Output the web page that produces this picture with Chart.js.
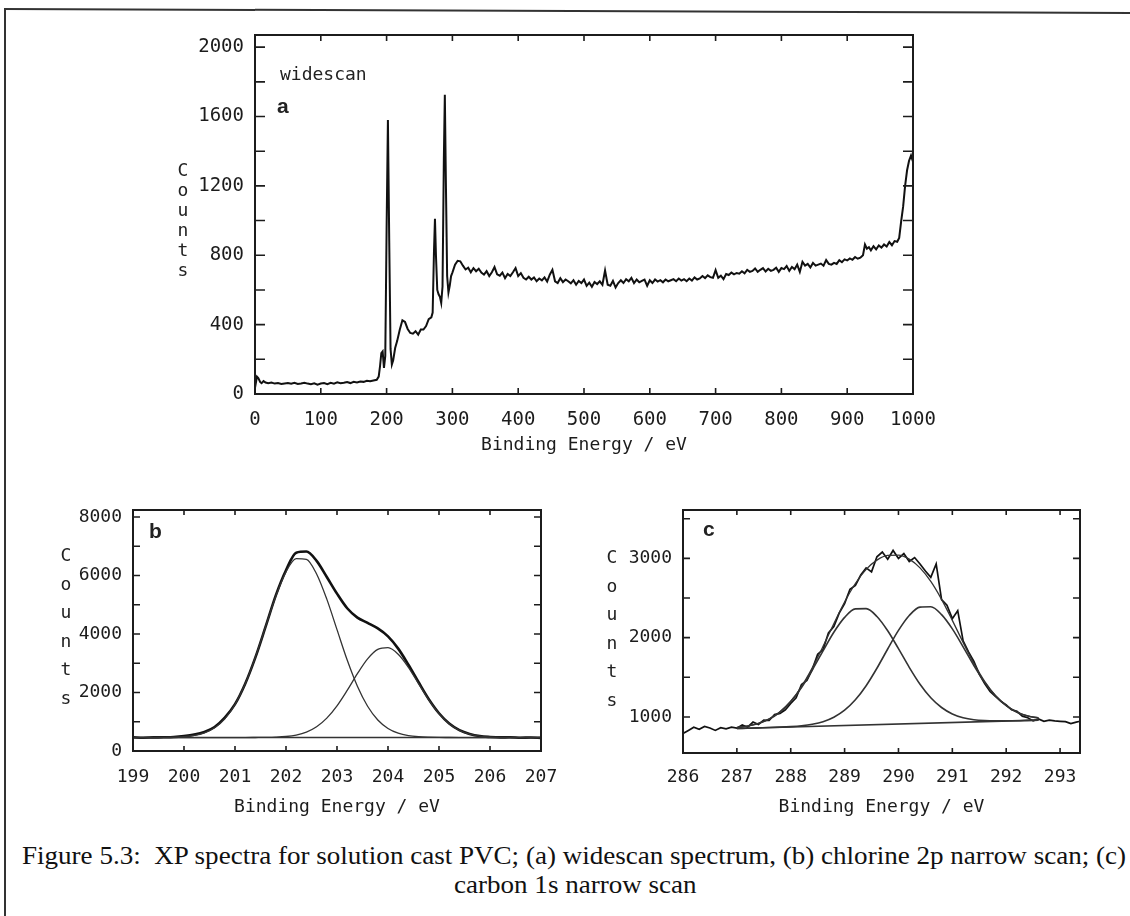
<!DOCTYPE html>
<html>
<head>
<meta charset="utf-8">
<script src="https://cdn.jsdelivr.net/npm/chart.js@4.4.0/dist/chart.umd.min.js"></script>
<style>
  html, body { margin: 0; padding: 0; background: #fff; }
  body { width: 1130px; height: 916px; position: relative; overflow: hidden; font-family: "DejaVu Sans Mono", monospace; color: #222; }
  .panel { position: absolute; }
  .frame-top { position: absolute; left: 4px; top: 8px; width: 1140px; height: 0; border-top: 2.5px solid #333; transform-origin: 0 0; transform: rotate(0.2deg); }
  .frame-left { position: absolute; left: 4px; top: 8px; width: 0; height: 920px; border-left: 2.5px solid #333; }
  .counts { position: absolute; font-size: 18px; text-align: center; width: 20px; }
  .note { position: absolute; font-size: 18px; line-height: 18px; }
  .tag { position: absolute; font-family: "Liberation Sans", Arial, sans-serif; font-weight: bold; font-size: 21px; line-height: 21px; }
  .caption { position: absolute; font-family: "Liberation Serif", "Times New Roman", serif; font-size: 25px; line-height: 27px; white-space: nowrap; transform-origin: 0 0; color: #111; }
</style>
</head>
<body>
<div class="frame-top"></div>
<div class="frame-left"></div>

<div class="panel" id="boxA"><canvas id="chartA"></canvas></div>
<div class="panel" id="boxB"><canvas id="chartB"></canvas></div>
<div class="panel" id="boxC"><canvas id="chartC"></canvas></div>

<div class="counts" style="left:173px;top:160px;line-height:20px">C<br>o<br>u<br>n<br>t<br>s</div>
<div class="counts" style="left:56px;top:541px;line-height:28.5px">C<br>o<br>u<br>n<br>t<br>s</div>
<div class="counts" style="left:602px;top:543px;line-height:28.5px">C<br>o<br>u<br>n<br>t<br>s</div>

<div class="note" style="left:280px;top:65px">widescan</div>
<div class="tag" style="left:277px;top:95px">a</div>
<div class="tag" style="left:149px;top:520px">b</div>
<div class="tag" style="left:703px;top:518px">c</div>

<div class="caption" id="cap1" style="left:22px;top:842px">Figure 5.3:&nbsp; XP spectra for solution cast PVC; (a) widescan spectrum, (b) chlorine 2p narrow scan; (c)</div>
<div class="caption" id="cap2" style="top:871px">carbon 1s narrow scan</div>

<script>
// (a) widescan
const wideEnergy = [
  0, 3, 5, 8, 10, 13, 16, 20, 25, 30, 35, 40, 45, 50, 55, 60, 65, 70, 75, 80, 85, 90, 95,
  100, 105, 110, 115, 120, 125, 130, 135, 140, 145, 150, 155, 160, 165, 170, 175, 180, 185,
  188, 190, 192, 194, 196, 198, 200, 202, 204, 206, 208, 210, 213, 216, 220, 224, 228, 232,
  236, 240, 244, 248, 252, 256, 260, 264, 268, 270, 272, 273.5, 275, 277, 279, 281, 283, 285,
  287, 288.5, 290, 292, 294, 296, 298,
  300, 304, 308, 312, 316, 320, 324, 328, 332, 336, 340, 344, 348, 352, 356, 360, 364, 368,
  372, 376, 380, 384, 388, 392, 396, 400, 404, 408, 412, 416, 420, 424, 428, 432, 436, 440,
  444, 448, 452, 456, 460, 464, 468, 472, 476, 480, 484, 488, 492, 496, 500, 504, 508, 512,
  516, 520, 524, 528, 532, 536, 540, 544, 548, 552, 556, 560, 564, 568, 572, 576, 580, 584,
  588, 592, 596, 600, 604, 608, 612, 616, 620, 624, 628, 632, 636, 640, 644, 648, 652, 656,
  660, 664, 668, 672, 676, 680, 684, 688, 692, 696, 700, 704, 708, 712, 716, 720, 724, 728,
  732, 736, 740, 744, 748, 752, 756, 760, 764, 768, 772, 776, 780, 784, 788, 792, 796, 800,
  804, 808, 812, 816, 820, 824, 828, 832, 836, 840, 844, 848, 852, 856, 860, 864, 868, 872,
  876, 880, 884, 888, 892, 896, 900, 904, 908, 912, 916, 920, 924,
  927, 930, 933, 936, 940, 944, 948, 952, 956, 960, 964, 968, 972, 976, 979, 982, 985, 988,
  991, 994, 997, 1000
];
const wideCounts = [
  35, 100, 92, 68, 62, 74, 66, 62, 66, 60, 63, 58, 61, 63, 59, 64, 58, 61, 65, 60, 57, 62, 54,
  60, 63, 57, 65, 60, 67, 62, 65, 69, 63, 70, 67, 72, 70, 76, 73, 78, 82,
  100, 160, 235, 245, 150, 220, 950, 1580, 880, 260, 170, 195, 265, 305, 370, 425, 415, 375,
  352, 348, 362, 342, 372, 372, 392, 432, 442, 470, 820, 1010, 800, 600, 575, 560, 525, 620,
  1350, 1725, 1250, 680, 585, 625, 680,
  700, 745, 768, 765, 740, 718, 728, 702, 726, 708, 722, 700, 688, 708, 680, 702, 732, 690,
  682, 700, 668, 692, 680, 702, 726, 680, 697, 670, 660, 676, 660, 672, 650, 666, 655, 672,
  648, 688, 716, 650, 640, 668, 645, 660, 650, 638, 656, 630, 652, 640, 660, 624, 642, 618,
  646, 634, 650, 630, 712, 630, 624, 652, 614, 640, 656, 640, 662, 650, 670, 640, 660, 644,
  652, 660, 624, 656, 640, 660, 648, 656, 644, 660, 650, 656, 662, 650, 666, 654, 662, 650,
  666, 654, 672, 660, 666, 680, 668, 684, 674, 670, 714, 670, 682, 662, 692, 686, 700, 690,
  698, 694, 708, 696, 716, 704, 710, 724, 704, 716, 726, 706, 722, 710, 716, 728, 704, 726,
  720, 738, 710, 732, 720, 746, 704, 762, 740, 750, 730, 756, 740, 746, 752, 740, 772, 750,
  746, 756, 750, 772, 760, 776, 770, 782, 774, 790, 780, 786, 800,
  862, 838, 846, 828, 852, 834, 856, 844, 862, 850, 876, 858, 882, 878, 900, 995, 1080, 1200,
  1290, 1345, 1375, 1340
];
const wideXTicks = [0, 100, 200, 300, 400, 500, 600, 700, 800, 900, 1000];
const wideYTicks = [0, 200, 400, 600, 800, 1000, 1200, 1400, 1600, 1800, 2000];
const wideYLabels = [0, 400, 800, 1200, 1600, 2000];

// (b) chlorine 2p
const clEnergy = [
  199.0, 199.2, 199.4, 199.6, 199.8, 200.0, 200.2, 200.4, 200.6, 200.8,
  201.0, 201.2, 201.4, 201.6, 201.8, 202.0, 202.2, 202.4, 202.6, 202.8,
  203.0, 203.2, 203.4, 203.6, 203.8, 204.0, 204.2, 204.4, 204.6, 204.8,
  205.0, 205.2, 205.4, 205.6, 205.8, 206.0, 206.2, 206.4, 206.6, 206.8, 207.0
];
const clData = [
  470, 455, 465, 470, 480, 510, 560, 650, 820, 1140,
  1600, 2300, 3200, 4250, 5320, 6180, 6780, 6820, 6500, 5950,
  5380, 4880, 4560, 4380, 4190, 3920, 3500, 2950, 2350, 1770,
  1290, 940, 715, 585, 510, 480, 465, 470, 455, 460, 450
];
const clPeak1 = [
  460, 460, 461, 464, 471, 489, 531, 621, 795, 1100,
  1590, 2296, 3210, 4255, 5289, 6123, 6579, 6554, 6054, 5192,
  4150, 3111, 2215, 1531, 1062, 772, 609, 526, 487, 470,
  463, 461, 460, 460, 460, 460, 460, 460, 460, 460, 460
];
const clPeak2 = [
  460, 460, 460, 460, 460, 460, 460, 460, 460, 460,
  460, 460, 462, 465, 474, 496, 546, 646, 828, 1123,
  1544, 2073, 2644, 3150, 3474, 3532, 3308, 2862, 2302, 1746,
  1276, 931, 707, 578, 511, 480, 467, 462, 460, 460, 460
];
const clBaseEnergy = [199.0, 207.0];
const clBase = [460, 460];
const clXTicks = [199, 200, 201, 202, 203, 204, 205, 206, 207];
const clYTicks = [0, 1000, 2000, 3000, 4000, 5000, 6000, 7000, 8000];
const clYLabels = [0, 2000, 4000, 6000, 8000];

// (c) carbon 1s
const cEnergy = [
  286.0, 286.1, 286.2, 286.3, 286.4, 286.5, 286.6, 286.7, 286.8, 286.9,
  287.0, 287.1, 287.2, 287.3, 287.4, 287.5, 287.6, 287.7, 287.8, 287.9,
  288.0, 288.1, 288.2, 288.3, 288.4, 288.5, 288.6, 288.7, 288.8, 288.9,
  289.0, 289.1, 289.2, 289.3, 289.4, 289.5, 289.6, 289.7, 289.8, 289.9,
  290.0, 290.1, 290.2, 290.3, 290.4, 290.5, 290.6, 290.7, 290.8, 290.9,
  291.0, 291.1, 291.2, 291.3, 291.4, 291.5, 291.6, 291.7, 291.8, 291.9,
  292.0, 292.1, 292.2, 292.3, 292.4, 292.5, 292.6, 292.7, 292.8, 292.9,
  293.0, 293.1, 293.2, 293.3, 293.4
];
const cData = [
  790, 830, 870, 845, 880, 860, 830, 865, 850, 870,
  858, 900, 870, 935, 905, 960, 955, 1030, 1045, 1090,
  1170, 1240, 1410, 1460, 1600, 1790, 1850, 2060, 2140, 2310,
  2430, 2610, 2660, 2790, 2880, 2830, 3020, 3080, 2990, 3100,
  3000, 3060, 2960, 3010, 2930, 2840, 2760, 2930, 2480, 2410,
  2240, 2340, 1960, 1820, 1700, 1540, 1420, 1320, 1260, 1200,
  1150, 1090, 1070, 1010, 990, 950, 975, 945, 960, 950,
  945, 940, 915, 935, 950
];
const cFitEnergy = [
  287.0, 287.2, 287.4, 287.6, 287.8, 288.0, 288.2, 288.4, 288.6, 288.8,
  289.0, 289.2, 289.4, 289.6, 289.8, 290.0, 290.2, 290.4, 290.6, 290.8,
  291.0, 291.2, 291.4, 291.6, 291.8, 292.0, 292.2, 292.4, 292.6
];
const cFit = [
  866, 885, 918, 974, 1064, 1198, 1384, 1619, 1890, 2176,
  2449, 2683, 2861, 2978, 3037, 3041, 2990, 2880, 2709, 2483,
  2218, 1940, 1675, 1448, 1270, 1144, 1061, 1012, 987
];
const cPeak1 = [
  866, 885, 918, 973, 1062, 1193, 1372, 1592, 1834, 2068,
  2256, 2363, 2366, 2267, 2087, 1861, 1626, 1413, 1242, 1119,
  1038, 990, 964, 953, 950, 951, 952, 956, 960
];
const cPeak2 = [
  854, 858, 862, 866, 871, 878, 889, 908, 940, 996,
  1085, 1216, 1394, 1614, 1857, 2091, 2279, 2385, 2389, 2290,
  2110, 1884, 1648, 1436, 1265, 1142, 1060, 1012, 987
];
const cBaseEnergy = [287.0, 292.6];
const cBase = [854, 960];
const cXTicks = [286, 287, 288, 289, 290, 291, 292, 293];
const cYTicks = [1000, 1500, 2000, 2500, 3000, 3500];
const cYLabels = [1000, 2000, 3000];

const INK = '#1c1c1c';
const MONO = '"DejaVu Sans Mono", monospace';

function pts(xs, ys) {
  return xs.map((x, i) => ({ x: x, y: ys[i] }));
}

// frame round the plot and inward ticks on all four sides
const frameTicks = {
  id: 'frameTicks',
  afterDatasetsDraw(chart, args, opts) {
    const { ctx, chartArea: a, scales: { x, y } } = chart;
    ctx.save();
    ctx.strokeStyle = INK;
    ctx.lineWidth = 2;
    ctx.strokeRect(a.left, a.top, a.right - a.left, a.bottom - a.top);
    ctx.lineWidth = 1.6;
    ctx.beginPath();
    x.ticks.forEach(t => {
      const px = x.getPixelForValue(t.value);
      ctx.moveTo(px, a.bottom); ctx.lineTo(px, a.bottom - opts.xLen);
      ctx.moveTo(px, a.top); ctx.lineTo(px, a.top + opts.xLen);
    });
    y.ticks.forEach(t => {
      const py = y.getPixelForValue(t.value);
      ctx.moveTo(a.left, py); ctx.lineTo(a.left + opts.yLen, py);
      ctx.moveTo(a.right, py); ctx.lineTo(a.right - opts.yLen, py);
    });
    ctx.stroke();
    ctx.restore();
  }
};

// box = plot area in page pixels
function makePanel(id, box, p) {
  const wrap = document.getElementById('box' + id);
  wrap.style.left = (box.left - 90) + 'px';
  wrap.style.top = (box.top - 15) + 'px';
  wrap.style.width = (box.right - box.left + 90 + 32) + 'px';
  wrap.style.height = (box.bottom - box.top + 15 + 70) + 'px';

  return new Chart(document.getElementById('chart' + id), {
    type: 'line',
    data: { datasets: p.datasets },
    options: {
      responsive: true,
      maintainAspectRatio: false,
      animation: false,
      layout: { padding: { left: 0, top: 15, right: 32, bottom: 0 } },
      plugins: {
        legend: { display: false },
        tooltip: { enabled: false },
        frameTicks: { xLen: p.xLen, yLen: p.yLen }
      },
      elements: { point: { radius: 0 } },
      scales: {
        x: {
          type: 'linear', min: p.xMin, max: p.xMax,
          grid: { display: false }, border: { display: false },
          afterBuildTicks: s => { s.ticks = p.xTicks.map(v => ({ value: v })); },
          ticks: {
            autoSkip: false, maxRotation: 0,
            padding: p.xPad, color: INK, font: { family: MONO, size: p.fs },
            callback: v => String(v)
          },
          title: {
            display: true, text: 'Binding Energy / eV', color: INK,
            font: { family: MONO, size: 18 }, padding: { top: 0, bottom: p.titlePad }
          },
          afterFit: s => { s.height = 70; s.paddingLeft = 0; s.paddingRight = 0; }
        },
        y: {
          type: 'linear', min: p.yMin, max: p.yMax,
          grid: { display: false }, border: { display: false },
          afterBuildTicks: s => { s.ticks = p.yTicks.map(v => ({ value: v })); },
          ticks: {
            autoSkip: false,
            padding: 3, color: INK, font: { family: MONO, size: p.fs },
            callback: v => (p.yLabels.includes(v) ? String(v) : '')
          },
          afterFit: s => { s.width = 90; s.paddingTop = 0; s.paddingBottom = 0; }
        }
      }
    },
    plugins: [frameTicks]
  });
}

function line(data, width, color, smooth) {
  return {
    data: data, borderColor: color, borderWidth: width, fill: false,
    tension: 0, cubicInterpolationMode: smooth ? 'monotone' : 'default'
  };
}

makePanel('A', { left: 255, top: 35, right: 913, bottom: 394 }, {
  xMin: 0, xMax: 1000, xTicks: wideXTicks, yMin: 0, yMax: 2070, yTicks: wideYTicks,
  yLabels: wideYLabels, fs: 19, xPad: 7, titlePad: 8, xLen: 6, yLen: 10,
  datasets: [line(pts(wideEnergy, wideCounts), 2, '#111', false)]
});

makePanel('B', { left: 133, top: 510, right: 541, bottom: 751 }, {
  xMin: 199, xMax: 207, xTicks: clXTicks, yMin: 0, yMax: 8240, yTicks: clYTicks,
  yLabels: clYLabels, fs: 18, xPad: 8, titlePad: 3, xLen: 5, yLen: 7,
  datasets: [
    line(pts(clBaseEnergy, clBase), 1.6, '#333', false),
    line(pts(clEnergy, clPeak1), 1.3, '#333', true),
    line(pts(clEnergy, clPeak2), 1.3, '#333', true),
    line(pts(clEnergy, clData), 2.6, '#111', true)
  ]
});

makePanel('C', { left: 683, top: 510, right: 1080, bottom: 753 }, {
  xMin: 286, xMax: 293.37, xTicks: cXTicks, yMin: 545, yMax: 3610, yTicks: cYTicks,
  yLabels: cYLabels, fs: 18, xPad: 6, titlePad: 5, xLen: 5, yLen: 7,
  datasets: [
    line(pts(cBaseEnergy, cBase), 1.6, '#333', false),
    line(pts(cFitEnergy, cPeak1), 1.6, '#333', true),
    line(pts(cFitEnergy, cPeak2), 1.6, '#333', true),
    line(pts(cFitEnergy, cFit), 1.3, '#333', true),
    line(pts(cEnergy, cData), 1.7, '#111', false)
  ]
});

// caption squeezed to the width it has in the scan
const cap1 = document.getElementById('cap1');
const cap2 = document.getElementById('cap2');
const k = 1104 / cap1.getBoundingClientRect().width;
cap1.style.transform = 'scaleX(' + k + ')';
const w2 = cap2.getBoundingClientRect().width * k;
cap2.style.left = (575 - w2 / 2) + 'px';
cap2.style.transform = 'scaleX(' + k + ')';
</script>
</body>
</html>
